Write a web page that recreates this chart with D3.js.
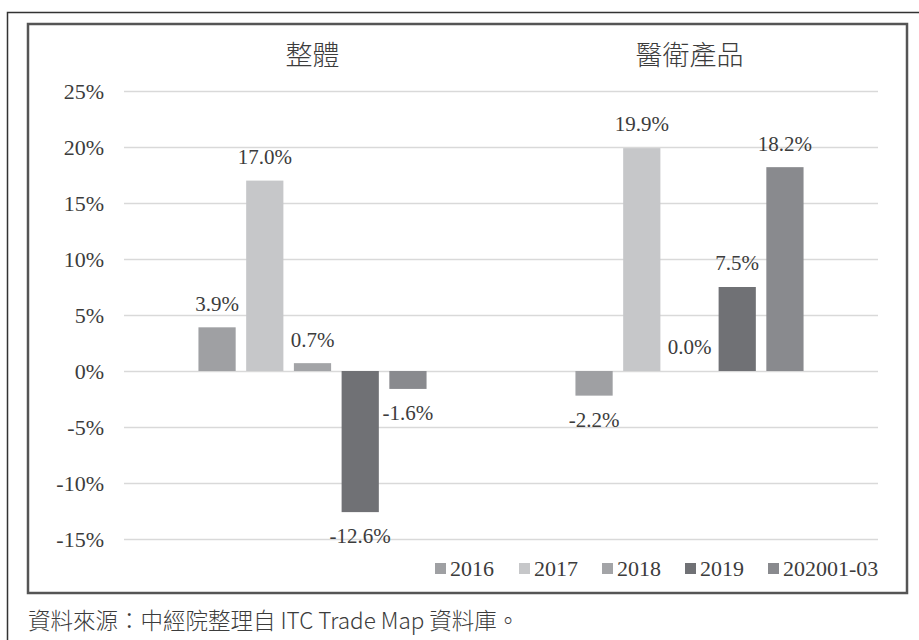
<html>
  <head>
    <meta charset="utf-8" />
    <style>
      body { margin: 0; background: #fff; }
      text { fill: #3c3c3c; }
    </style>
  </head>
  <body>
    <svg id="container" width="919" height="640"></svg>
    <script src="https://cdn.jsdelivr.net/npm/d3@7"></script>
    <script>
      // data
      let groups = ["整體", "醫衛產品"];
      let years = ["2016", "2017", "2018", "2019", "202001-03"];
      let overall = [3.9, 17.0, 0.7, -12.6, -1.6];
      let medical = [-2.2, 19.9, 0.0, 7.5, 18.2];
      let ticks = [-15, -10, -5, 0, 5, 10, 15, 20, 25];
      let colors = ["#9fa0a3", "#c6c7c9", "#a3a4a7", "#707175", "#898a8e"];
      let source = "資料來源：中經院整理自 ITC Trade Map 資料庫。";

      let values = [overall, medical];
      let svg = d3.select("#container");
      let serif = "'Liberation Serif', 'DejaVu Serif', serif";

      // frames
      svg.append("path")
        .attr("d", "M7.5,640 V12.5 H919")
        .attr("fill", "none")
        .attr("stroke", "#333")
        .attr("stroke-width", 1.5);
      svg.append("rect")
        .attr("x", 28).attr("y", 24)
        .attr("width", 879).attr("height", 569)
        .attr("fill", "#fff")
        .attr("stroke", "#555")
        .attr("stroke-width", 2.5);

      let x0 = d3.scaleBand().domain(groups).range([124, 878]);
      let x1 = d3.scaleBand().domain(years)
        .range([0, x0.bandwidth()])
        .paddingInner(0.22)
        .paddingOuter(1.56);
      let y = d3.scaleLinear().domain([-15, 25]).range([539, 91]);

      // gridlines + y labels
      let yAxis = d3.axisLeft(y)
        .tickValues(ticks)
        .tickSize(-(878 - 124))
        .tickPadding(20)
        .tickFormat((d) => d + "%");
      let ga = svg.append("g")
        .attr("transform", "translate(124,0)")
        .call(yAxis);
      ga.select(".domain").remove();
      ga.selectAll(".tick line")
        .attr("stroke", "#d9d9d9")
        .attr("stroke-width", 1.5);
      ga.selectAll(".tick text")
        .attr("font-family", serif)
        .attr("font-size", 22)
        .attr("fill", "#3c3c3c");

      // group titles
      svg.selectAll(".title")
        .data(groups)
        .enter()
        .append("text")
        .attr("class", "title")
        .attr("x", (d) => x0(d) + x0.bandwidth() / 2)
        .attr("y", 65)
        .attr("text-anchor", "middle")
        .attr("font-family", "'Noto Sans CJK TC', sans-serif")
        .attr("font-weight", 300)
        .attr("font-size", 27)
        .text((d) => d);

      // bars
      let gg = svg.selectAll(".grp")
        .data(groups)
        .enter()
        .append("g")
        .attr("class", "grp")
        .attr("transform", (d) => "translate(" + x0(d) + ",0)");

      let cells = gg.selectAll(".cell")
        .data((d, i) => years.map((yr, j) => ({ yr: yr, v: values[i][j], j: j })))
        .enter();

      cells.append("rect")
        .attr("x", (d) => x1(d.yr))
        .attr("width", x1.bandwidth())
        .attr("y", (d) => y(Math.max(0, d.v)))
        .attr("height", (d) => Math.abs(y(d.v) - y(0)))
        .attr("fill", (d) => colors[d.j]);

      cells.append("text")
        .attr("x", (d) => x1(d.yr) + x1.bandwidth() / 2)
        .attr("y", (d) => (d.v >= 0 ? y(d.v) - 24 : y(d.v) + 24))
        .attr("dy", "0.35em")
        .attr("text-anchor", "middle")
        .attr("font-family", serif)
        .attr("font-size", 21)
        .text((d) => d.v.toFixed(1) + "%");

      // legend
      let legendX = [435, 519, 602, 685, 768];
      let lg = svg.selectAll(".leg")
        .data(years)
        .enter()
        .append("g")
        .attr("class", "leg")
        .attr("transform", (d, i) => "translate(" + legendX[i] + ",568)");
      lg.append("rect")
        .attr("x", 0).attr("y", -5)
        .attr("width", 11).attr("height", 11)
        .attr("fill", (d, i) => colors[i]);
      lg.append("text")
        .attr("x", 15)
        .attr("dy", "0.35em")
        .attr("font-family", serif)
        .attr("font-size", 22)
        .text((d) => d);

      // source note
      svg.append("text")
        .attr("x", 28)
        .attr("y", 621)
        .attr("dy", "0.35em")
        .attr("font-family", "'Noto Sans CJK TC', sans-serif")
        .attr("font-weight", 300)
        .attr("font-size", 22.5)
        .attr("fill", "#555")
        .text(source);
    </script>
  </body>
</html>
